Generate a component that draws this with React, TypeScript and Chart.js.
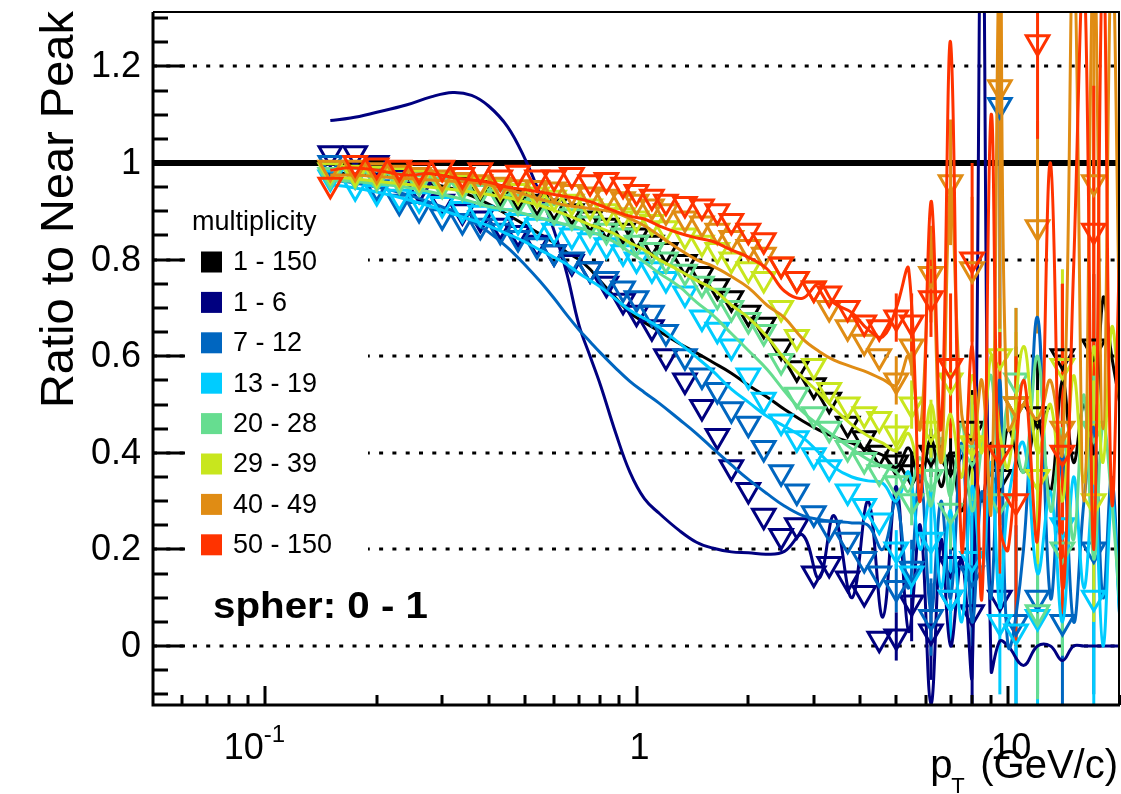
import React, { useEffect, useRef } from "react";
import { Chart, registerables } from "chart.js";
Chart.register(...registerables);

const W = 1121;
const H = 794;
const FONT = '"Liberation Sans", Arial, Helvetica, sans-serif';

const SERIES_LABELS = ["1 - 150", "1 - 6", "7 - 12", "13 - 19", "20 - 28", "29 - 39", "40 - 49", "50 - 150"];
const SERIES_COLORS = ["#000000", "#000080", "#0066c0", "#00ccff", "#66dd90", "#c8e61e", "#e08c14", "#ff3300"];

const X_MIN = 0.05;
const X_MAX = 20;
const Y_MIN = -0.122;
const Y_MAX = 1.3126;

const Y_MAJOR_TICKS = [0, 0.2, 0.4, 0.6, 0.8, 1, 1.2];
const Y_TICK_LABELS = ["0", "0.2", "0.4", "0.6", "0.8", "1", "1.2"];
const Y_MINOR_TICKS = [-0.1, -0.05, 0.05, 0.1, 0.15, 0.25, 0.3, 0.35, 0.45, 0.5, 0.55, 0.65, 0.7, 0.75, 0.85, 0.9, 0.95, 1.05, 1.1, 1.15, 1.25, 1.3];
const GRID_VALUES = [0, 0.2, 0.4, 0.6, 0.8, 1.2];
const REF_VALUE = 1;
const X_MAJOR_TICKS = [0.1, 1, 10];
const X_TICK_BASES = ["10", "1", "10"];
const X_TICK_EXPS = ["-1", "", ""];
const X_MINOR_TICKS = [0.06, 0.07, 0.08, 0.09, 0.2, 0.3, 0.4, 0.5, 0.6, 0.7, 0.8, 0.9, 2, 3, 4, 5, 6, 7, 8, 9, 20];

const Y_TITLE = "Ratio to Near Peak";
const X_TITLE_MAIN = "p";
const X_TITLE_SUB = "T";
const X_TITLE_UNIT = "(GeV/c)";
const LEGEND_TITLE = "multiplicity";
const CUT_TEXT = "spher: 0 - 1";

// smooth curves (pT grid)
const LINE_PT = [0.15, 0.17, 0.2, 0.24, 0.28, 0.32, 0.36, 0.4, 0.45, 0.5, 0.55, 0.6, 0.65, 0.7, 0.75, 0.8, 0.88, 0.96, 1.05, 1.15, 1.3, 1.45, 1.6, 1.8, 2.0, 2.25, 2.5, 2.8, 3.1, 3.4, 3.8, 4.2, 4.6, 5.0, 5.4, 5.8, 6.2, 6.6, 7.0, 7.5, 8.0, 8.5, 9.0, 9.5, 10, 11, 12, 13, 14, 15, 16, 17, 18, 19, 20];

const LINE_1_150 = [0.98, 0.978, 0.975, 0.966, 0.957, 0.947, 0.932, 0.915, 0.893, 0.872, 0.853, 0.835, 0.815, 0.8, 0.78, 0.755, 0.72, 0.69, 0.67, 0.652, 0.627, 0.607, 0.588, 0.565, 0.54, 0.515, 0.49, 0.466, 0.447, 0.433, 0.42, 0.405, 0.395, 0.37, 0.41, 0.34, 0.43, 0.33, 0.4, 0.28, 0.38, 0.3, 0.42, 0.33, 0.45, 0.36, 0.47, 0.32, 0.55, 0.38, 0.5, 0.4, 0.72, 0.6, 0.5];
const LINE_1_6 = [1.088, 1.093, 1.105, 1.12, 1.137, 1.146, 1.14, 1.118, 1.075, 1.01, 0.935, 0.86, 0.77, 0.665, 0.6, 0.54, 0.44, 0.36, 0.305, 0.275, 0.24, 0.215, 0.203, 0.195, 0.193, 0.19, 0.196, 0.23, 0.14, 0.27, 0.1, 0.3, 0.06, 0.33, 0.03, 0.25, -0.12, 0.22, 0.0, 0.18, -0.06, 1.6, -0.05, 0.01, 0.0, -0.04, 0.0, 0.0, -0.03, 0.0, 0.0, 0.0, 0.0, 0.0, 0.0];
const LINE_7_12 = [0.965, 0.96, 0.95, 0.935, 0.918, 0.9, 0.88, 0.857, 0.825, 0.79, 0.755, 0.72, 0.685, 0.655, 0.63, 0.607, 0.575, 0.548, 0.525, 0.503, 0.47, 0.44, 0.41, 0.375, 0.345, 0.315, 0.29, 0.27, 0.262, 0.258, 0.255, 0.25, 0.2, 0.3, 0.12, 0.36, 0.07, 0.3, 0.1, 0.42, 0.05, 0.32, 0.1, 0.55, 0.0, 0.2, 0.68, 0.1, 0.4, 0.05, 0.3, 0.45, 0.1, 0.35, 0.05];
const LINE_13_19 = [0.955, 0.95, 0.94, 0.925, 0.91, 0.895, 0.882, 0.87, 0.853, 0.837, 0.82, 0.805, 0.79, 0.772, 0.757, 0.743, 0.718, 0.695, 0.678, 0.66, 0.628, 0.598, 0.57, 0.532, 0.505, 0.475, 0.455, 0.432, 0.4, 0.37, 0.35, 0.342, 0.337, 0.3, 0.36, 0.2, 0.32, 0.12, 0.28, 0.05, 0.33, 0.15, 0.38, 0.08, 0.3, 0.42, 0.15, 0.32, 0.05, 0.35, 0.12, 0.33, 0.0, 0.3, 0.05];
const LINE_20_28 = [0.965, 0.962, 0.957, 0.95, 0.94, 0.93, 0.92, 0.91, 0.903, 0.895, 0.886, 0.879, 0.872, 0.866, 0.858, 0.85, 0.835, 0.815, 0.795, 0.772, 0.745, 0.712, 0.686, 0.647, 0.612, 0.572, 0.528, 0.485, 0.457, 0.435, 0.408, 0.386, 0.372, 0.36, 0.32, 0.39, 0.29, 0.43, 0.31, 0.46, 0.28, 0.42, 0.56, 0.33, 0.5, 0.36, 0.6, 0.28, 0.45, 0.22, 0.52, 0.18, 0.46, 0.3, 0.08];
const LINE_29_39 = [0.97, 0.968, 0.962, 0.956, 0.95, 0.945, 0.94, 0.935, 0.928, 0.92, 0.912, 0.902, 0.892, 0.882, 0.872, 0.865, 0.852, 0.835, 0.82, 0.8, 0.778, 0.757, 0.74, 0.706, 0.68, 0.64, 0.595, 0.556, 0.524, 0.492, 0.458, 0.435, 0.42, 0.405, 0.44, 0.36, 0.5, 0.38, 0.48, 0.35, 0.56, 0.4, 0.6, 0.44, 0.37, 0.62, 0.4, 0.5, 0.3, 0.56, 0.34, 0.62, 0.38, 0.66, 0.5];
const LINE_40_49 = [0.975, 0.975, 0.972, 0.968, 0.965, 0.962, 0.96, 0.955, 0.945, 0.935, 0.925, 0.918, 0.912, 0.909, 0.906, 0.903, 0.897, 0.885, 0.87, 0.85, 0.822, 0.8, 0.787, 0.765, 0.742, 0.705, 0.68, 0.636, 0.61, 0.592, 0.578, 0.566, 0.552, 0.54, 0.6, 0.45, 0.85, 0.38, 0.95, 0.48, 0.42, 0.55, 0.28, 1.45, 0.45, 0.5, 0.47, 0.55, 0.4, 1.45, 0.3, 1.45, 0.45, 1.45, 0.6];
const LINE_50_150 = [0.985, 0.99, 0.985, 0.975, 0.978, 0.97, 0.965, 0.96, 0.95, 0.945, 0.94, 0.935, 0.93, 0.926, 0.92, 0.912, 0.9, 0.89, 0.884, 0.87, 0.855, 0.845, 0.838, 0.82, 0.805, 0.78, 0.735, 0.72, 0.75, 0.71, 0.69, 0.655, 0.64, 0.7, 0.78, 0.3, 0.92, 0.45, 1.25, 0.2, 0.62, 0.1, 1.1, 0.25, 0.2, 0.55, 0.22, 1.0, 0.12, 0.78, 1.4, 0.2, 1.45, 0.3, 0.85];

// open down-triangle markers (pT grid)
const MARK_PT = [0.15, 0.175, 0.2, 0.23, 0.26, 0.3, 0.34, 0.38, 0.43, 0.48, 0.54, 0.6, 0.67, 0.75, 0.83, 0.92, 1.0, 1.1, 1.2, 1.35, 1.5, 1.65, 1.8, 2.0, 2.2, 2.45, 2.7, 3.0, 3.3, 3.7, 4.1, 4.5, 5.0, 5.5, 6.2, 7.0, 8.0, 9.5, 10.5, 12, 14, 17];

const MARK_1_150 = [0.985, 0.98, 0.978, 0.975, 0.97, 0.962, 0.955, 0.948, 0.94, 0.93, 0.92, 0.91, 0.9, 0.885, 0.87, 0.86, 0.85, 0.835, 0.82, 0.795, 0.77, 0.745, 0.72, 0.69, 0.665, 0.62, 0.575, 0.54, 0.51, 0.46, 0.43, 0.4, 0.38, 0.36, 0.4, 0.38, 0.45, 0.35, 0.5, 0.48, 0.6, 0.62];
const MARK_1_6 = [1.02, 1.02, 1.0, 0.97, 0.945, 0.92, 0.9, 0.885, 0.87, 0.855, 0.835, 0.815, 0.795, 0.78, 0.75, 0.715, 0.69, 0.66, 0.6, 0.55, 0.495, 0.435, 0.37, 0.323, 0.27, 0.228, 0.25, 0.15, 0.17, 0.14, 0.11, 0.015, 0.02, 0.09, 0.03, 0.17, 0.07, 0.1, null, null, null, null];
const MARK_7_12 = [1.0, 0.975, 0.95, 0.92, 0.905, 0.89, 0.88, 0.87, 0.86, 0.845, 0.83, 0.815, 0.8, 0.78, 0.76, 0.74, 0.72, 0.69, 0.65, 0.6, 0.56, 0.53, 0.49, 0.46, 0.41, 0.36, 0.32, 0.275, 0.245, 0.22, 0.18, 0.15, 0.12, 0.16, 0.06, 0.1, 0.15, 1.12, 0.05, 0.1, 0.05, 0.2];
const MARK_13_19 = [0.97, 0.95, 0.94, 0.93, 0.925, 0.915, 0.905, 0.897, 0.89, 0.88, 0.87, 0.86, 0.85, 0.84, 0.83, 0.815, 0.8, 0.78, 0.76, 0.73, 0.68, 0.655, 0.62, 0.56, 0.51, 0.465, 0.43, 0.395, 0.37, 0.32, 0.29, 0.26, 0.2, 0.15, 0.22, 0.1, 0.18, 0.05, 0.03, 0.06, 0.25, 0.1];
const MARK_20_28 = [0.975, 0.975, 0.97, 0.965, 0.96, 0.955, 0.95, 0.94, 0.93, 0.92, 0.91, 0.9, 0.89, 0.875, 0.86, 0.85, 0.835, 0.82, 0.8, 0.775, 0.75, 0.725, 0.7, 0.675, 0.65, 0.59, 0.52, 0.48, 0.45, 0.41, 0.385, 0.36, 0.337, 0.3, 0.35, 0.28, 0.4, 0.3, 0.55, 0.07, 0.2, 0.45];
const MARK_29_39 = [0.985, 0.98, 0.978, 0.975, 0.97, 0.965, 0.96, 0.955, 0.95, 0.942, 0.935, 0.928, 0.92, 0.91, 0.9, 0.892, 0.885, 0.878, 0.865, 0.85, 0.835, 0.82, 0.8, 0.78, 0.76, 0.7, 0.64, 0.58, 0.53, 0.5, 0.48, 0.47, 0.44, 0.5, 0.45, 0.55, 0.42, 0.6, 0.5, 0.35, 0.58, 0.3];
const MARK_40_49 = [0.99, 0.99, 0.985, 0.98, 0.975, 0.97, 0.965, 0.96, 0.955, 0.95, 0.948, 0.945, 0.94, 0.935, 0.93, 0.925, 0.92, 0.91, 0.9, 0.885, 0.875, 0.86, 0.845, 0.826, 0.81, 0.79, 0.76, 0.74, 0.7, 0.66, 0.63, 0.6, 0.55, 0.62, 0.77, 0.96, 0.78, 1.157, 0.5, 0.867, 0.45, 0.96];
const MARK_50_150 = [0.955, 1.0, 0.995, 0.99, 0.985, 0.99, 0.975, 0.985, 0.97, 0.98, 0.97, 0.97, 0.975, 0.96, 0.965, 0.955, 0.94, 0.93, 0.92, 0.915, 0.91, 0.9, 0.88, 0.86, 0.84, 0.79, 0.76, 0.74, 0.73, 0.7, 0.67, 0.66, 0.68, 0.67, 0.72, 0.58, 0.8, 0.4, 0.3, 1.25, 0.4, 0.86];

// vertical errors for the last ten marker points (from MARK_PT index 32: 5.0 GeV on)
const ERR_START = 32;
const ERR_1_150 = [0.03, 0.04, 0.05, 0.07, 0.08, 0.1, 0.12, 0.12, 0.15, 0.15];
const ERR_1_6 = [0.05, 0.08, 0.1, 0.15, 0.2, 0, 0, 0, 0, 0];
const ERR_7_12 = [0.05, 0.06, 0.08, 0.1, 0.15, 0.5, 0.2, 0.2, 0.25, 0.3];
const ERR_13_19 = [0.04, 0.05, 0.07, 0.09, 0.12, 0.15, 0.2, 0.2, 0.25, 0.3];
const ERR_20_28 = [0.04, 0.05, 0.06, 0.08, 0.1, 0.13, 0.15, 0.18, 0.22, 0.25];
const ERR_29_39 = [0.04, 0.05, 0.06, 0.08, 0.1, 0.12, 0.15, 0.18, 0.2, 0.25];
const ERR_40_49 = [0.05, 0.06, 0.1, 0.13, 0.15, 0.5, 0.2, 0.22, 0.3, 0.4];
const ERR_50_150 = [0.05, 0.06, 0.08, 0.15, 0.2, 0.25, 0.3, 0.2, 0.35, 0.3];

const LINES = [LINE_1_150, LINE_1_6, LINE_7_12, LINE_13_19, LINE_20_28, LINE_29_39, LINE_40_49, LINE_50_150];
const MARKS = [MARK_1_150, MARK_1_6, MARK_7_12, MARK_13_19, MARK_20_28, MARK_29_39, MARK_40_49, MARK_50_150];
const ERRS = [ERR_1_150, ERR_1_6, ERR_7_12, ERR_13_19, ERR_20_28, ERR_29_39, ERR_40_49, ERR_50_150];

const rootPlugin = {
  id: "rootStyle",
  beforeDatasetsDraw(chart: any) {
    const { ctx, chartArea: a } = chart;
    const xs = chart.scales.x;
    const ys = chart.scales.y;
    ctx.save();
    ctx.beginPath();
    ctx.rect(a.left, a.top, a.right - a.left, a.bottom - a.top);
    ctx.clip();
    ctx.strokeStyle = "#000";
    ctx.lineWidth = 3;
    ctx.setLineDash([4, 9.3]);
    for (const v of GRID_VALUES) {
      const py = Math.round(ys.getPixelForValue(v));
      ctx.beginPath();
      ctx.moveTo(a.left, py);
      ctx.lineTo(a.right, py);
      ctx.stroke();
    }
    ctx.setLineDash([]);
    ctx.lineWidth = 6;
    const pr = ys.getPixelForValue(REF_VALUE);
    ctx.beginPath();
    ctx.moveTo(a.left, pr);
    ctx.lineTo(a.right, pr);
    ctx.stroke();
    ctx.lineWidth = 3;
    ERRS.forEach((errs, k) => {
      ctx.strokeStyle = SERIES_COLORS[k];
      errs.forEach((e, i) => {
        const j = ERR_START + i;
        const v = MARKS[k][j];
        if (v == null || !e) return;
        const px = xs.getPixelForValue(MARK_PT[j]);
        ctx.beginPath();
        ctx.moveTo(px, ys.getPixelForValue(v - e));
        ctx.lineTo(px, ys.getPixelForValue(v + e));
        ctx.stroke();
      });
    });
    ctx.restore();
  },
  afterDraw(chart: any) {
    const { ctx, chartArea: a } = chart;
    const xs = chart.scales.x;
    const ys = chart.scales.y;
    ctx.save();

    // legend
    ctx.fillStyle = "#fff";
    ctx.fillRect(188, 205, 180, 365);
    ctx.fillStyle = "#000";
    ctx.textAlign = "left";
    ctx.textBaseline = "middle";
    ctx.font = `27px ${FONT}`;
    ctx.fillText(LEGEND_TITLE, 192, 223);
    SERIES_LABELS.forEach((lab, k) => {
      const cy = 262 + k * 40.4;
      ctx.fillStyle = SERIES_COLORS[k];
      ctx.fillRect(201, cy - 10.5, 21, 21);
      ctx.fillStyle = "#000";
      ctx.fillText(lab, 233, cy + 1);
    });

    // cut label
    ctx.save();
    ctx.font = `bold 36px ${FONT}`;
    const cw = ctx.measureText(CUT_TEXT).width;
    ctx.translate(213, 608);
    ctx.scale(215 / cw, 1);
    ctx.fillText(CUT_TEXT, 0, 0);
    ctx.restore();

    // frame
    ctx.strokeStyle = "#000";
    ctx.lineWidth = 3;
    ctx.beginPath();
    ctx.moveTo(a.left, a.top);
    ctx.lineTo(a.left, a.bottom);
    ctx.lineTo(a.right, a.bottom);
    ctx.stroke();
    ctx.lineWidth = 2;
    ctx.beginPath();
    ctx.moveTo(a.left, a.top);
    ctx.lineTo(a.right - 1, a.top);
    ctx.lineTo(a.right - 1, a.bottom);
    ctx.stroke();

    // ticks
    ctx.lineWidth = 3;
    for (const v of Y_MAJOR_TICKS) {
      const py = Math.round(ys.getPixelForValue(v));
      ctx.beginPath();
      ctx.moveTo(a.left, py);
      ctx.lineTo(a.left + 32, py);
      ctx.stroke();
    }
    for (const v of Y_MINOR_TICKS) {
      const py = Math.round(ys.getPixelForValue(v));
      ctx.beginPath();
      ctx.moveTo(a.left, py);
      ctx.lineTo(a.left + 15, py);
      ctx.stroke();
    }
    for (const v of X_MAJOR_TICKS) {
      const px = Math.round(xs.getPixelForValue(v));
      ctx.beginPath();
      ctx.moveTo(px, a.bottom);
      ctx.lineTo(px, a.bottom - 19);
      ctx.stroke();
    }
    for (const v of X_MINOR_TICKS) {
      const px = Math.round(xs.getPixelForValue(v));
      ctx.beginPath();
      ctx.moveTo(px, a.bottom);
      ctx.lineTo(px, a.bottom - 10);
      ctx.stroke();
    }

    // y tick labels
    ctx.fillStyle = "#000";
    ctx.font = `36px ${FONT}`;
    ctx.textAlign = "right";
    ctx.textBaseline = "middle";
    Y_MAJOR_TICKS.forEach((v, i) => {
      ctx.fillText(Y_TICK_LABELS[i], 141, ys.getPixelForValue(v) + 1);
    });

    // x tick labels
    ctx.textBaseline = "alphabetic";
    X_MAJOR_TICKS.forEach((v, i) => {
      const px = xs.getPixelForValue(v);
      ctx.font = `36px ${FONT}`;
      if (X_TICK_EXPS[i]) {
        ctx.textAlign = "right";
        ctx.fillText(X_TICK_BASES[i], px - 1, 759);
        ctx.font = `24px ${FONT}`;
        ctx.textAlign = "left";
        ctx.fillText(X_TICK_EXPS[i], px - 1, 742);
      } else {
        ctx.textAlign = "center";
        ctx.fillText(X_TICK_BASES[i], px + 3, 759);
      }
    });

    // x title
    ctx.font = `40px ${FONT}`;
    ctx.textAlign = "right";
    ctx.fillText(X_TITLE_UNIT, 1118, 778);
    const uw = ctx.measureText(X_TITLE_UNIT).width;
    const start = 1118 - uw;
    ctx.textAlign = "left";
    ctx.fillText(X_TITLE_MAIN, start - 50, 778);
    ctx.font = `22px ${FONT}`;
    ctx.fillText(X_TITLE_SUB, start - 29, 793);

    // y title
    ctx.save();
    ctx.translate(73, 11);
    ctx.rotate(-Math.PI / 2);
    ctx.font = `47px ${FONT}`;
    ctx.textAlign = "right";
    ctx.textBaseline = "alphabetic";
    ctx.fillText(Y_TITLE, 0, 0);
    ctx.restore();

    ctx.restore();
  },
};

export default function App() {
  const ref = useRef<HTMLCanvasElement | null>(null);
  useEffect(() => {
    document.body.style.margin = "0";
    const canvas = ref.current;
    if (!canvas) return;
    const datasets: any[] = [];
    const n = SERIES_LABELS.length;
    for (let k = 0; k < n; k++) {
      datasets.push({
        label: SERIES_LABELS[k] + " markers",
        data: MARK_PT.map((x, j) => ({ x, y: MARKS[k][j] })),
        showLine: false,
        pointStyle: "triangle",
        rotation: 180,
        pointRadius: 13,
        pointBorderWidth: 3,
        borderColor: SERIES_COLORS[k],
        pointBorderColor: SERIES_COLORS[k],
        backgroundColor: "rgba(0,0,0,0)",
        pointBackgroundColor: "rgba(0,0,0,0)",
        order: 100 - 2 * k,
      });
      datasets.push({
        label: SERIES_LABELS[k] + " curve",
        data: LINE_PT.map((x, j) => ({ x, y: LINES[k][j] })),
        showLine: true,
        borderColor: SERIES_COLORS[k],
        borderWidth: 3,
        pointRadius: 0,
        tension: 0.4,
        fill: false,
        order: 99 - 2 * k,
      });
    }
    const chart = new Chart(canvas, {
      type: "scatter",
      data: { datasets },
      options: {
        animation: false,
        responsive: false,
        devicePixelRatio: 1,
        events: [],
        layout: { autoPadding: false, padding: { left: 153, right: 1, top: 12, bottom: 89 } },
        scales: {
          x: { type: "logarithmic", min: X_MIN, max: X_MAX, display: false },
          y: { type: "linear", min: Y_MIN, max: Y_MAX, display: false },
        },
        plugins: { legend: { display: false }, tooltip: { enabled: false } },
      } as any,
      plugins: [rootPlugin as any],
    });
    return () => chart.destroy();
  }, []);
  return (
    <div style={{ width: W, height: H, background: "#fff" }}>
      <canvas ref={ref} width={W} height={H} style={{ display: "block" }} />
    </div>
  );
}
